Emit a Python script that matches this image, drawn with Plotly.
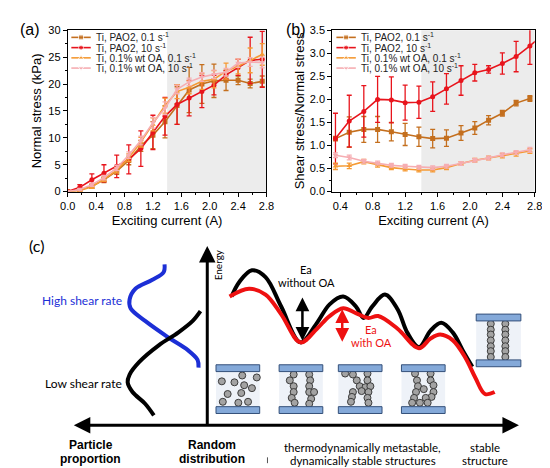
import plotly.graph_objects as go

# ---- panel (a): normal stress vs exciting current ----
x_a = [0, 0.17, 0.34, 0.51, 0.69, 0.86, 1.03, 1.2, 1.37, 1.54, 1.71, 1.89, 2.06, 2.23, 2.4, 2.57, 2.74]
pao2_01_a = [0, 0.3, 1.0, 2.2, 3.8, 5.8, 8.5, 10.5, 13.0, 16.0, 18.9, 20.0, 20.6, 20.7, 20.7, 20.1, 20.5]
pao2_01_a_err = [0, 0.3, 0.4, 0.5, 0.6, 0.8, 1.0, 2.5, 3.0, 3.5, 4.2, 3.6, 3.1, 1.9, 0.8, 0.8, 1.0]
pao2_10_a = [0, 0.8, 2.2, 3.4, 4.7, 6.0, 8.0, 11.0, 14.0, 16.2, 17.4, 18.6, 19.8, 21.7, 23.1, 24.4, 24.6]
pao2_10_a_err = [0, 0.5, 1.1, 1.6, 2.1, 2.7, 3.3, 3.2, 3.5, 3.7, 3.3, 3.0, 1.8, 0.8, 1.5, 4.3, 5.2]
oa_01_a = [0, 0.2, 0.9, 2.3, 4.0, 6.3, 9.2, 12.5, 16.0, 18.6, 19.4, 20.5, 20.9, 22.4, 23.3, 24.4, 25.5]
oa_01_a_err = [0, 0.2, 0.3, 0.4, 0.5, 0.7, 0.9, 1.2, 1.4, 1.3, 1.2, 1.5, 1.6, 1.5, 1.4, 2.3, 2.0]
oa_10_a = [0, 0.4, 1.3, 2.6, 4.4, 6.8, 9.5, 12.8, 15.5, 19.0, 20.4, 21.3, 21.8, 22.2, 23.9, 24.1, 24.0]
oa_10_a_err = [0, 0.2, 0.3, 0.4, 0.5, 0.6, 0.8, 1.0, 1.2, 0.8, 0.7, 0.8, 0.8, 0.7, 0.8, 0.8, 1.0]

# ---- panel (b): shear stress / normal stress ----
x_b = [0.34, 0.51, 0.69, 0.86, 1.03, 1.2, 1.37, 1.54, 1.71, 1.89, 2.06, 2.23, 2.4, 2.57, 2.74, 2.91]
pao2_01_b = [1.15, 1.29, 1.35, 1.35, 1.3, 1.24, 1.19, 1.15, 1.16, 1.27, 1.38, 1.55, 1.7, 1.92, 2.02, None]
pao2_01_b_err = [0.05, 0.33, 0.28, 0.28, 0.2, 0.24, 0.21, 0.2, 0.18, 0.16, 0.14, 0.1, 0.06, 0.06, 0.06, 0]
pao2_10_b = [1.15, 1.53, 1.74, 2.0, 1.99, 1.93, 1.94, 2.06, 2.23, 2.41, 2.58, 2.65, 2.78, 2.93, 3.16, 3.42]
pao2_10_b_err = [0.55, 0.56, 0.56, 0.5, 0.5, 0.38, 0.35, 0.32, 0.33, 0.32, 0.18, 0.08, 0.23, 0.33, 0.4, 0]
oa_01_b = [0.55, 0.56, 0.65, 0.58, 0.52, 0.49, 0.47, 0.47, 0.52, 0.61, 0.68, 0.73, 0.78, 0.82, 0.88, None]
oa_01_b_err = [0.07, 0.06, 0.05, 0.05, 0.04, 0.04, 0.04, 0.04, 0.04, 0.04, 0.04, 0.04, 0.05, 0.05, 0.05, 0]
oa_10_b = [0.79, 0.74, 0.66, 0.62, 0.57, 0.55, 0.53, 0.52, 0.55, 0.61, 0.68, 0.73, 0.8, 0.85, 0.91, None]
oa_10_b_err = [0.05, 0.05, 0.04, 0.04, 0.04, 0.04, 0.04, 0.04, 0.04, 0.04, 0.04, 0.04, 0.04, 0.04, 0.05, 0]

series_names = ["Ti, PAO2, 0.1 s<sup>-1</sup>", "Ti, PAO2, 10 s<sup>-1</sup>",
                "Ti, 0.1% wt OA, 0.1 s<sup>-1</sup>", "Ti, 0.1% wt OA, 10 s<sup>-1</sup>"]
series_colors = ["#c46f1e", "#e8141c", "#f59a34", "#f6adb2"]
series_symbols = ["square", "circle", "triangle-up", "triangle-down"]

# ---- panel (c): schematic (page pixel coordinates) ----
blue_x = [153, 152, 140, 123, 117, 118, 133, 157, 177, 187, 188]
blue_y = [257, 265, 273, 282, 293, 302, 315, 332, 345, 355, 363]
low_x = [190, 182, 167, 147, 127, 117, 115, 120, 133, 142]
low_y = [305, 315, 327, 340, 357, 370, 378, 388, 400, 412]
e_black_x = [222, 230, 243, 257, 273, 293, 310, 323, 337, 350, 358, 367, 380, 393, 403, 415, 427, 438, 450, 460, 470]
e_black_y = [290, 275, 263, 270, 300, 337, 317, 298, 290, 300, 312, 300, 288, 303, 327, 342, 325, 317, 327, 345, 362]
e_red_x = [220, 240, 257, 273, 293, 310, 323, 337, 350, 363, 373, 393, 415, 427, 437, 450, 463, 473, 483, 493]
e_red_y = [290, 282, 288, 308, 337, 323, 310, 302, 307, 312, 310, 323, 343, 333, 329, 335, 353, 373, 390, 388]

box_x0 = [206, 271, 332, 397, 474]
box_x1 = [251, 316, 377, 442, 520]
box_top = [360, 360, 360, 360, 308]
box_bot = [410, 410, 410, 410, 362]

part_x = [212, 225, 233, 248, 235, 243, 218, 232, 213, 229, 239,
          286, 282, 286, 286, 284, 287, 302, 303, 302, 302, 307, 304, 302,
          339, 347, 362, 351, 362, 354, 360, 365, 347, 356, 363, 346, 362, 345, 363,
          411, 427, 413, 427, 430, 414, 420, 430, 412, 428, 410, 422, 408, 416, 424,
          489, 489, 489, 489, 489, 489, 489, 504, 504, 504, 504, 504, 504, 504]
part_y = [377, 378, 371, 373, 381, 384, 390, 389, 398, 399, 398,
          370, 376, 382, 388, 394, 399, 370, 376, 382, 388, 388, 395, 400,
          369, 370, 369, 376, 376, 382, 383, 382, 388, 387, 388, 393, 394, 398, 399,
          369, 369, 376, 376, 381, 382, 385, 388, 388, 393, 394, 394, 399, 399, 399,
          318, 324, 329, 335, 341, 346, 352, 318, 324, 329, 335, 341, 346, 352]

W, H = 550, 468
AX_FONT = "Liberation Sans, Arial, sans-serif"
C_FONT = "Lato, Noto Sans, sans-serif"

fig = go.Figure()

panels = [
    ("x", "y", x_a, [(pao2_01_a, pao2_01_a_err), (pao2_10_a, pao2_10_a_err),
                     (oa_01_a, oa_01_a_err), (oa_10_a, oa_10_a_err)]),
    ("x2", "y2", x_b, [(pao2_01_b, pao2_01_b_err), (pao2_10_b, pao2_10_b_err),
                       (oa_01_b, oa_01_b_err), (oa_10_b, oa_10_b_err)]),
]
for xa, ya, xs, data in panels:
    for i, (ys, errs) in enumerate(data):
        fig.add_trace(go.Scatter(
            x=xs, y=ys, mode="lines+markers", xaxis=xa, yaxis=ya, showlegend=False,
            line=dict(color=series_colors[i], width=1.6),
            marker=dict(symbol=series_symbols[i], size=5, color=series_colors[i]),
            error_y=dict(type="data", array=errs, color=series_colors[i], thickness=1.3, width=2.5),
            name=series_names[i]))

# manual compact legends for (a) and (b)
leg_rows = [24, 34.5, 45, 55.5]
for lx in (57, 330):
    for i in range(4):
        fig.add_trace(go.Scatter(
            x=[lx, lx + 10, lx + 20], y=[leg_rows[i]] * 3, mode="lines+markers",
            xaxis="x3", yaxis="y3", showlegend=False, hoverinfo="skip",
            line=dict(color=series_colors[i], width=1.6),
            marker=dict(symbol=series_symbols[i], size=[0, 5, 0], color=series_colors[i])))
        fig.add_annotation(x=lx + 23, y=leg_rows[i], xref="x3", yref="y3", text=series_names[i],
                           showarrow=False, xanchor="left", yanchor="middle",
                           font=dict(family=AX_FONT, size=10, color="#222"))

# schematic shapes: plates and gaps
for x0, x1, t, b in zip(box_x0, box_x1, box_top, box_bot):
    fig.add_shape(type="rect", xref="x3", yref="y3", x0=x0, x1=x1, y0=t + 7, y1=b - 7,
                  fillcolor="#eef2f8", line_width=0, layer="below")
    for y0, y1 in ((t, t + 7), (b - 7, b)):
        fig.add_shape(type="rect", xref="x3", yref="y3", x0=x0, x1=x1, y0=y0, y1=y1,
                      fillcolor="#84a9d9", line=dict(color="#34507a", width=1))

fig.add_trace(go.Scatter(x=part_x, y=part_y, mode="markers", xaxis="x3", yaxis="y3",
                         showlegend=False, hoverinfo="skip",
                         marker=dict(size=7, color="#a3a3a3", line=dict(color="#3c3c3c", width=1))))

for xs, ys, col in ((blue_x, blue_y, "#1c2fd6"), (low_x, low_y, "black"),
                    (e_black_x, e_black_y, "black"), (e_red_x, e_red_y, "#ee1111")):
    fig.add_trace(go.Scatter(x=xs, y=ys, mode="lines", xaxis="x3", yaxis="y3",
                             showlegend=False, hoverinfo="skip",
                             line=dict(color=col, width=4, shape="spline", smoothing=1.0)))

# axes arrows of schematic
arrows = [
    dict(x=518, y=422, ax=58, ay=422, arrowside="end+start", arrowwidth=3, arrowcolor="black"),
    dict(x=197, y=238, ax=197, ay=423, arrowside="end", arrowwidth=3, arrowcolor="black"),
    dict(x=295, y=291, ax=295, ay=337, arrowside="end+start", arrowwidth=2.5, arrowcolor="black"),
    dict(x=336, y=303, ax=336, ay=338, arrowside="end+start", arrowwidth=2.5, arrowcolor="#ee1111"),
]
for a in arrows:
    fig.add_annotation(xref="x3", yref="y3", axref="x3", ayref="y3", text="", showarrow=True,
                       arrowhead=2, arrowsize=1.1, **a)

texts = [
    ("(a)", 14, 16, 16, AX_FONT, "black"),
    ("(b)", 288, 16, 16, AX_FONT, "black"),
    ("(c)", 21, 238, 16, C_FONT, "black"),
    ("High shear rate", 68, 294, 12, C_FONT, "#1c2fd6"),
    ("Low shear rate", 70, 379, 12, C_FONT, "black"),
    ("Ea", 299, 262, 11, C_FONT, "black"),
    ("without OA", 299, 275.5, 11, C_FONT, "black"),
    ("Ea", 366, 324, 11, C_FONT, "#ee1111"),
    ("with OA", 366, 337.5, 11, C_FONT, "#ee1111"),
    ("<b>Particle</b>", 77, 442, 12, AX_FONT, "black"),
    ("<b>proportion</b>", 77, 457, 12, AX_FONT, "black"),
    ("<b>Random</b>", 202, 442, 12, AX_FONT, "black"),
    ("<b>distribution</b>", 202, 457, 12, AX_FONT, "black"),
    ("thermodynamically metastable,", 357, 445, 11.5, C_FONT, "black"),
    ("dynamically stable structures", 357, 458, 11.5, C_FONT, "black"),
    ("stable", 483, 445, 11.5, C_FONT, "black"),
    ("structure", 483, 458, 11.5, C_FONT, "black"),
]
for t, x, y, s, fam, col in texts:
    fig.add_annotation(x=x, y=y, xref="x3", yref="y3", text=t, showarrow=False,
                       font=dict(family=fam, size=s, color=col))
fig.add_annotation(x=208, y=257, xref="x3", yref="y3", text="Energy", textangle=-90,
                   showarrow=False, font=dict(family=C_FONT, size=10, color="black"))

# grey shaded region above 1.4 A
for xr, yr in (("x", "y domain"), ("x2", "y2 domain")):
    fig.add_shape(type="rect", xref=xr, yref=yr, x0=1.4, x1=2.8, y0=0, y1=1,
                  fillcolor="#ececec", line_width=0, layer="below")

ydom = [1 - 182.3 / H, 1 - 16.7 / H]
axis_common = dict(showline=True, linecolor="black", linewidth=1, mirror=True, ticks="outside",
                   ticklen=4, tickwidth=1, tickcolor="black", showgrid=False, zeroline=False,
                   tickfont=dict(family=AX_FONT, size=11, color="black"),
                   minor=dict(ticks="outside", ticklen=2, tickcolor="black", showgrid=False))
title_font = dict(family=AX_FONT, size=13, color="black")

fig.update_layout(
    width=W, height=H, margin=dict(l=0, r=0, t=0, b=0),
    paper_bgcolor="white", plot_bgcolor="rgba(0,0,0,0)", showlegend=False,
    xaxis=dict(domain=[53.3 / W, 258 / W], range=[0, 2.8], dtick=0.4, tick0=0, tickformat=".1f",
               title=dict(text="Exciting current (A)", font=title_font, standoff=5),
               **{**axis_common, "minor": dict(axis_common["minor"], dtick=0.2)}),
    yaxis=dict(domain=ydom, range=[0, 30], dtick=5,
               title=dict(text="Normal stress (kPa)", font=title_font, standoff=3),
               **{**axis_common, "minor": dict(axis_common["minor"], dtick=2.5)}),
    xaxis2=dict(domain=[325.7 / W, 534.3 / W], range=[0.3, 2.8], dtick=0.4, tick0=0.4, tickformat=".1f",
                anchor="y2",
                title=dict(text="Exciting current (A)", font=title_font, standoff=5),
                **{**axis_common, "minor": dict(axis_common["minor"], dtick=0.2, tick0=0.4)}),
    yaxis2=dict(domain=ydom, range=[0, 3.5], dtick=0.5, tickformat=".1f", anchor="x2",
                title=dict(text="Shear stress/Normal stress", font=title_font, standoff=2),
                **{**axis_common, "minor": dict(axis_common["minor"], dtick=0.25)}),
    xaxis3=dict(domain=[0, 1], range=[0, W], visible=False, anchor="y3", fixedrange=True),
    yaxis3=dict(domain=[0, 1], range=[H, 0], visible=False, anchor="x3", fixedrange=True),
)
fig.add_shape(type="line", xref="x3", yref="y3", x0=259, x1=259, y0=455, y1=461,
              line=dict(color="#555", width=1))

fig.write_html("out.html")
